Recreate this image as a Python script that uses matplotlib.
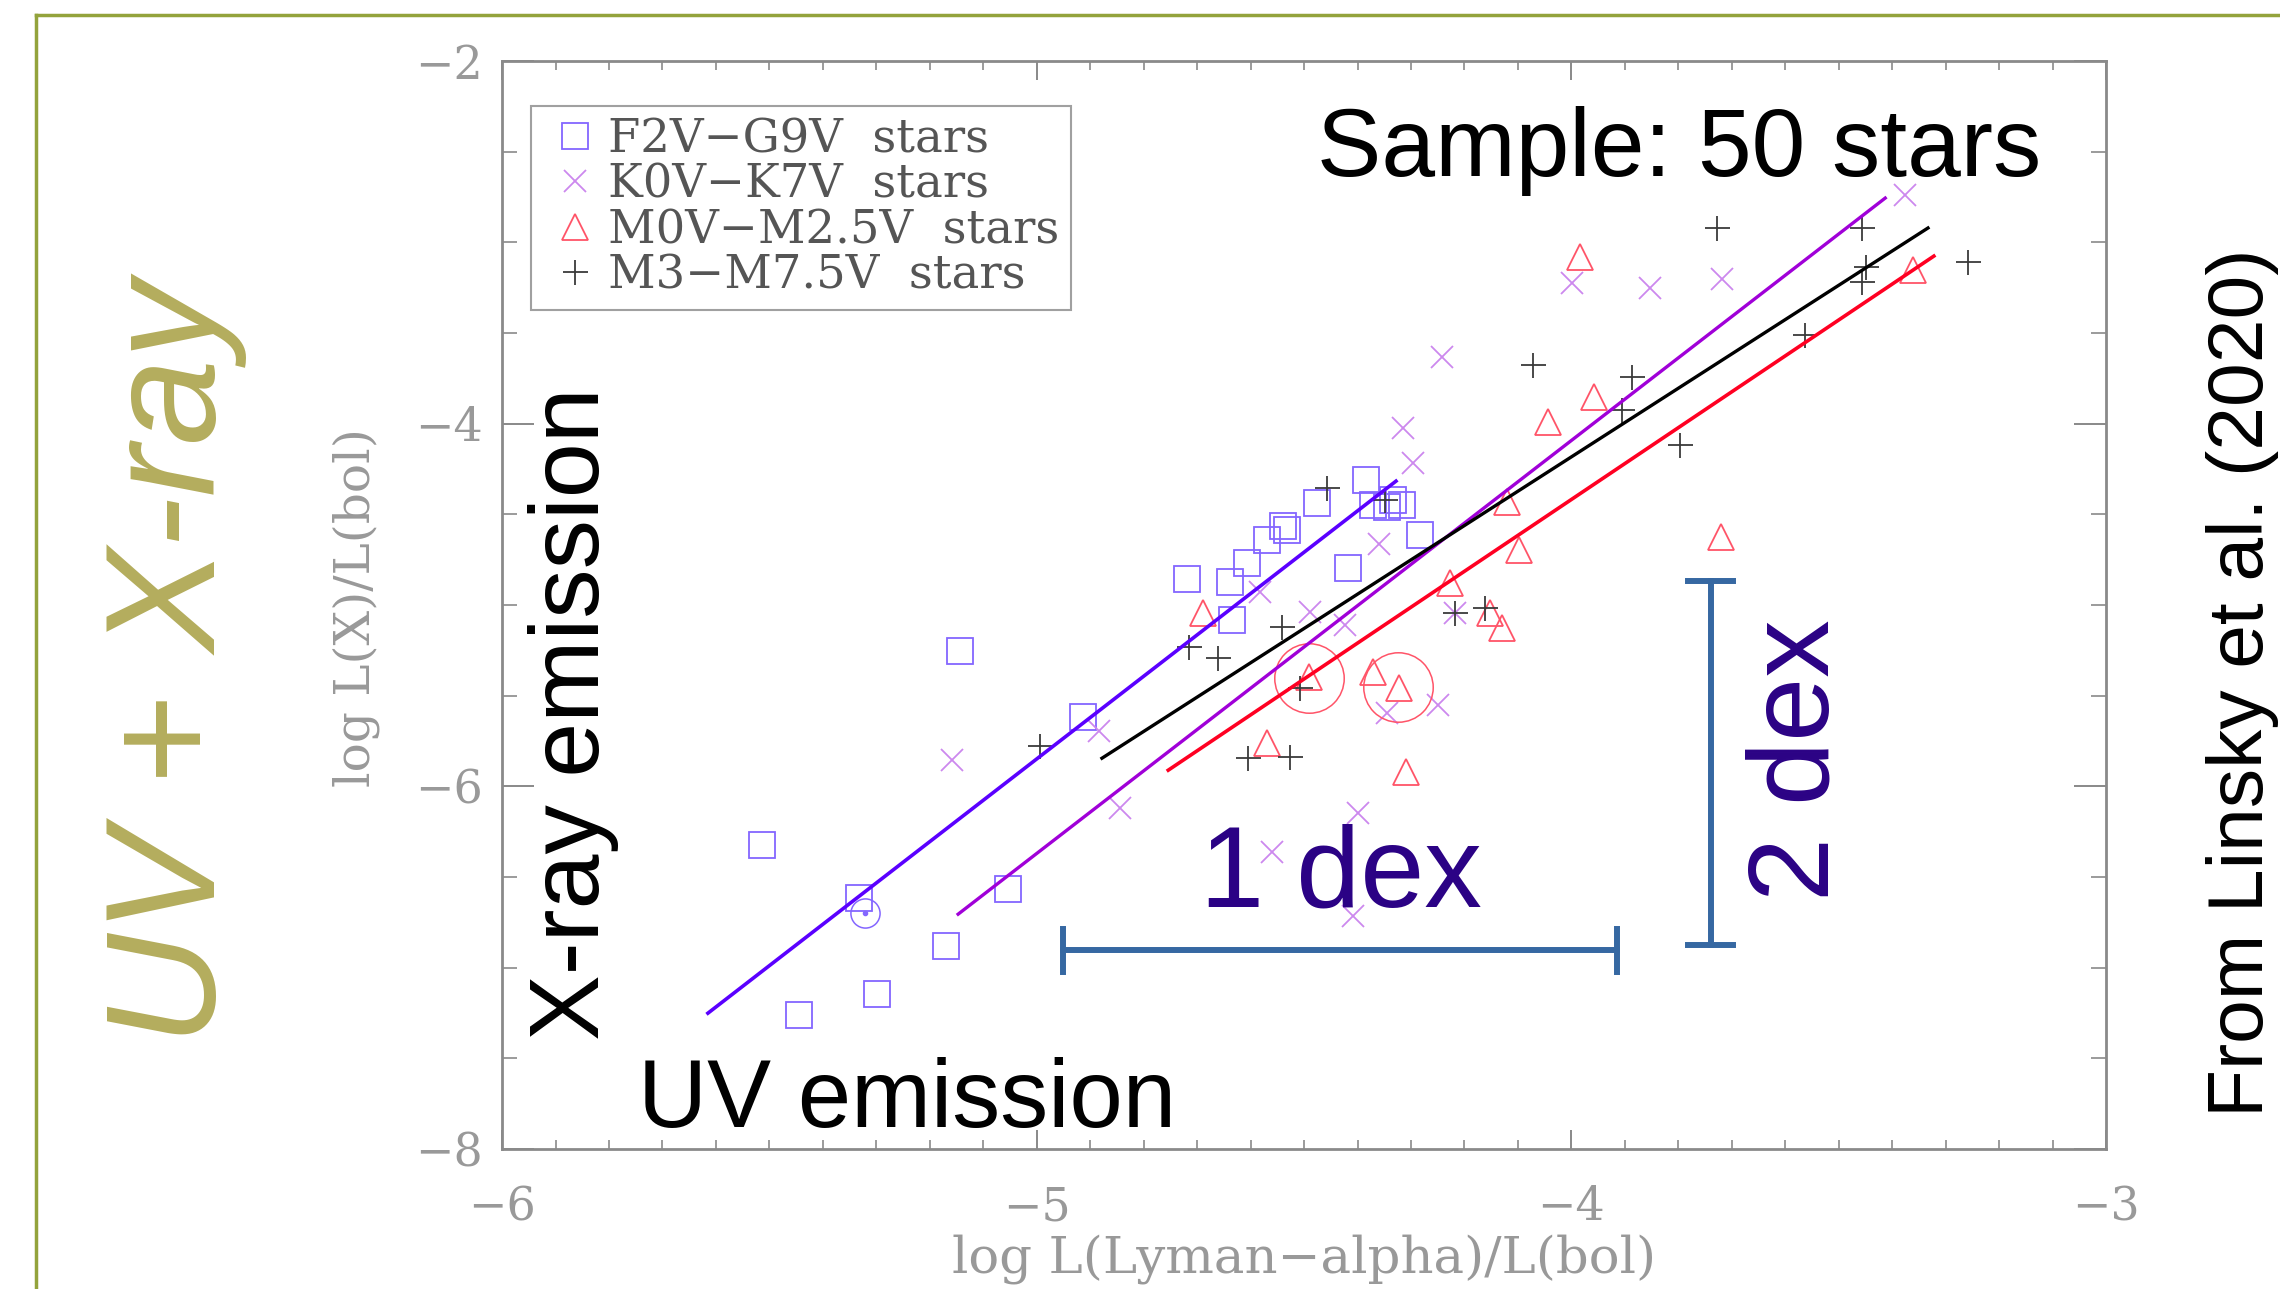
import matplotlib.pyplot as plt
from matplotlib.lines import Line2D
from matplotlib.ticker import MultipleLocator

plt.rcParams['font.family'] = ['Liberation Sans', 'DejaVu Sans']

# F2V-G9V stars (squares)
fg_x = [-5.514, -5.445, -5.332, -5.299, -5.170, -5.143, -5.054, -4.913, -4.719, -4.638,
        -4.607, -4.569, -4.539, -4.532, -4.635, -4.476, -4.384, -4.418, -4.371, -4.345,
        -4.334, -4.317, -4.283]
fg_y = [-6.324, -7.262, -6.617, -7.146, -6.881, -5.254, -6.567, -5.618, -4.857, -4.874,
        -4.769, -4.642, -4.565, -4.587, -5.083, -4.438, -4.311, -4.796, -4.449, -4.460,
        -4.421, -4.449, -4.614]

# K0V-K7V stars (crosses)
k_x = [-5.158, -4.883, -4.844, -4.582, -4.489, -4.423, -4.360, -4.315, -4.296, -4.345,
       -4.250, -4.218, -4.399, -4.560, -4.408, -4.242, -3.999, -3.853, -3.718, -3.376]
k_y = [-5.855, -5.696, -6.120, -4.929, -5.039, -5.111, -4.664, -4.024, -4.217, -5.596,
       -5.552, -5.045, -6.148, -6.363, -6.716, -3.633, -3.224, -3.252, -3.202, -2.739]

# M0V-M2.5V stars (triangles)
m0_x = [-4.689, -4.491, -4.371, -4.322, -4.227, -4.120, -4.098, -4.152, -4.130, -4.569,
        -4.309, -3.720, -3.984, -3.958, -4.044, -3.361]
m0_y = [-5.045, -5.398, -5.370, -5.458, -4.879, -4.432, -4.697, -5.045, -5.127, -5.762,
        -5.922, -4.626, -3.081, -3.853, -3.991, -3.153]

# M3-M7.5V stars (plus)
m3_x = [-4.994, -4.715, -4.661, -4.541, -4.508, -4.605, -4.526, -4.457, -4.349, -4.218,
        -4.162, -4.072, -3.887, -3.905, -3.797, -3.728, -3.563, -3.457, -3.449, -3.457,
        -3.258]
m3_y = [-5.778, -5.232, -5.293, -5.122, -5.458, -5.844, -5.839, -4.355, -4.421, -5.045,
        -5.017, -3.677, -3.743, -3.925, -4.118, -2.921, -3.511, -2.921, -3.136, -3.219,
        -3.109]

# circled stars
ring_fg_x = [-5.321]
ring_fg_y = [-6.699]
ring_m0_x = [-4.491, -4.324]
ring_m0_y = [-5.403, -5.453]

# fit lines (end points)
fit_fg_x = [-5.615, -4.328]
fit_fg_y = [-7.251, -4.317]
fit_k_x = [-5.147, -3.413]
fit_k_y = [-6.705, -2.756]
fit_m3_x = [-4.878, -3.333]
fit_m3_y = [-5.845, -2.921]
fit_m0_x = [-4.754, -3.322]
fit_m0_y = [-5.911, -3.076]

# scale bars
dex1_x = [-4.951, -3.915]
dex1_y = -6.904
dex2_x = -3.739
dex2_y = [-4.868, -6.876]

labels = ['F2V−G9V  stars', 'K0V−K7V  stars', 'M0V−M2.5V  stars', 'M3−M7.5V  stars']
x_ticks = [-6, -5, -4, -3]
x_tick_labels = ['−6', '−5', '−4', '−3']
y_ticks = [-8, -6, -4, -2]
y_tick_labels = ['−8', '−6', '−4', '−2']

c_fg = '#8466ff'
c_k = '#cc88ee'
c_m0 = '#ff5468'
c_m3 = '#3a3a3a'
gray = '#999999'
serif = 'DejaVu Serif'

fig = plt.figure(figsize=(22.8, 12.89), dpi=100)
ax = fig.add_axes([0.2202, 0.1086, 0.7035, 0.8441])

h1, = ax.plot(fg_x, fg_y, ls='none', marker='s', ms=19, mfc='none', mec=c_fg, mew=1.3)
h2, = ax.plot(k_x, k_y, ls='none', marker='x', ms=16, mec=c_k, mew=1.3)
h3, = ax.plot(m0_x, m0_y, ls='none', marker='^', ms=19, mfc='none', mec=c_m0, mew=1.3)
h4, = ax.plot(m3_x, m3_y, ls='none', marker='+', ms=18, mec=c_m3, mew=1.3)

ax.plot(ring_fg_x, ring_fg_y, ls='none', marker='o', ms=21, mfc='none', mec=c_fg, mew=1.1)
ax.plot(ring_fg_x, ring_fg_y, ls='none', marker='o', ms=3, color=c_fg)
ax.plot(ring_m0_x, ring_m0_y, ls='none', marker='o', ms=50, mfc='none', mec=c_m0, mew=1.1)

ax.plot(fit_fg_x, fit_fg_y, color='#5a00ff', lw=2.6)
ax.plot(fit_k_x, fit_k_y, color='#a000d8', lw=2.4)
ax.plot(fit_m3_x, fit_m3_y, color='black', lw=2.4)
ax.plot(fit_m0_x, fit_m0_y, color='#ff0022', lw=2.6)

# 1 dex / 2 dex bars
bar_c = '#3668a2'
ax.plot(dex1_x, [dex1_y, dex1_y], color=bar_c, lw=4.3)
for xb in dex1_x:
    ax.plot([xb, xb], [dex1_y - 0.12, dex1_y + 0.12], color=bar_c, lw=4.3)
ax.plot([dex2_x, dex2_x], dex2_y, color=bar_c, lw=4.3)
for yb in dex2_y:
    ax.plot([dex2_x - 0.042, dex2_x + 0.042], [yb, yb], color=bar_c, lw=4.3)

ax.set_xlim(-6, -3)
ax.set_ylim(-8, -2)
ax.set_xticks(x_ticks, x_tick_labels, fontfamily=serif, fontsize=33, color=gray)
ax.set_yticks(y_ticks, y_tick_labels, fontfamily=serif, fontsize=33, color=gray)
ax.xaxis.set_minor_locator(MultipleLocator(0.1))
ax.yaxis.set_minor_locator(MultipleLocator(0.5))
ax.tick_params(which='both', direction='in', top=True, right=True, color='#808080')
ax.tick_params(axis='x', which='major', length=14, width=1.3, pad=26)
ax.tick_params(axis='x', which='minor', length=6.5, width=1.1)
ax.tick_params(axis='y', which='major', length=23, width=1.3, pad=14)
ax.tick_params(axis='y', which='minor', length=11, width=1.1)
for s in ax.spines.values():
    s.set_color('#8a8a8a')
    s.set_linewidth(2)

leg = ax.legend([h1, h2, h3, h4], labels, loc='upper left',
                bbox_to_anchor=(0.018, 0.959), borderaxespad=0, fancybox=False,
                prop={'family': serif, 'size': 33.5}, labelspacing=0.0,
                handlelength=1.4, handletextpad=0.0, borderpad=0.25)
leg.get_frame().set_edgecolor('#888888')
leg.get_frame().set_linewidth(1.5)
for t in leg.get_texts():
    t.set_color('#555555')

fig.text(0.5719, 0.0233, 'log L(Lyman−alpha)/L(bol)', family=serif, fontsize=37,
         color=gray, ha='center', va='center')
fig.text(0.1561, 0.5283, 'log L(X)/L(bol)', family=serif, fontsize=35,
         color=gray, ha='center', va='center', rotation=90)

# annotations
fig.text(0.0943, 0.4860, 'UV + X-ray', fontsize=112, style='italic', color='#b4ad5d',
         rotation=90, rotation_mode='anchor', ha='center', va='baseline')
fig.text(0.2627, 0.4461, 'X-ray emission', fontsize=71, color='black',
         rotation=90, rotation_mode='anchor', ha='center', va='baseline')
fig.text(0.2800, 0.1257, 'UV emission', fontsize=69, color='black',
         ha='left', va='baseline')
fig.text(0.5775, 0.8635, 'Sample: 50 stars', fontsize=69.5, color='black',
         ha='left', va='baseline')
fig.text(0.5880, 0.2971, '1 dex', fontsize=83, color='#2b0285',
         ha='center', va='baseline')
fig.text(0.8018, 0.4104, '2 dex', fontsize=83, color='#2b0285',
         rotation=90, rotation_mode='anchor', ha='center', va='baseline')
fig.text(0.9925, 0.4701, 'From Linsky et al. (2020)', fontsize=56.5, color='black',
         rotation=90, rotation_mode='anchor', ha='center', va='baseline')

# slide frame
fig.add_artist(Line2D([0.0158, 1.0], [0.9884, 0.9884], transform=fig.transFigure,
                      color='#93a33c', lw=2.5))
fig.add_artist(Line2D([0.0158, 0.0158], [0.0, 0.9884], transform=fig.transFigure,
                      color='#93a33c', lw=2.5))

fig.savefig('out.png', dpi=100, facecolor='white')
